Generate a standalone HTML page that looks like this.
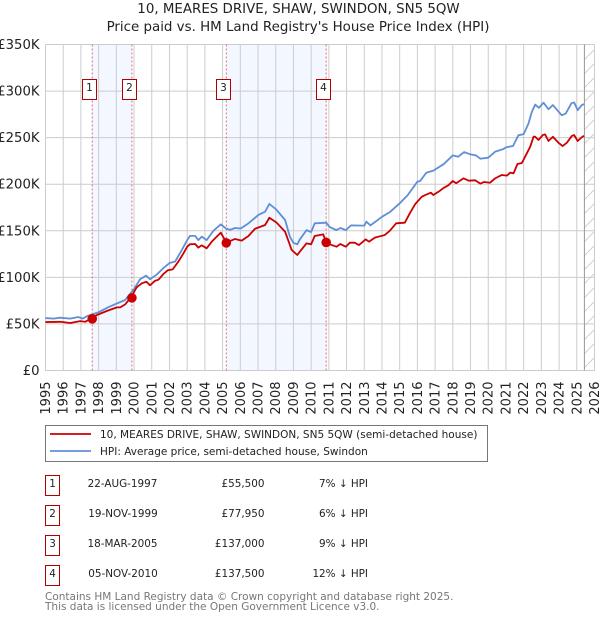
<!DOCTYPE html>
<html>
<head>
<meta charset="utf-8">
<title>10, Meares Drive price chart</title>
<style>
html,body{margin:0;padding:0;background:#fff;}
body{width:600px;height:620px;overflow:hidden;}
svg{display:block;}
text{font-family:"DejaVu Sans","Liberation Sans",sans-serif;fill:#222;}
</style>
</head>
<body>
<svg id="chart" width="600" height="620" viewBox="0 0 600 620">
  <defs>
    <pattern id="hatch" width="14" height="14" patternUnits="userSpaceOnUse">
      <line x1="0" y1="14" x2="14" y2="0" stroke="#d0d0d0" stroke-width="1"/>
    </pattern>
  </defs>
  <text x="298.5" y="13" text-anchor="middle" font-size="13.4">10, MEARES DRIVE, SHAW, SWINDON, SN5 5QW</text>
  <text x="298" y="31" text-anchor="middle" font-size="13.4">Price paid vs. HM Land Registry's House Price Index (HPI)</text>
  <g id="bands"></g>
  <g id="grid"></g>
  <g id="hatchLayer"></g>
  <g id="vlines"></g>
  <g id="series"></g>
  <g id="markers"></g>
  <g id="flags"></g>
  <g id="yLabels"></g>
  <g id="xLabels"></g>

  <g>
    <rect x="45.5" y="425.5" width="442" height="36" fill="#fff" stroke="#777" stroke-width="1"/>
    <line x1="50" y1="434" x2="91" y2="434" stroke="#cc0000" stroke-width="1.8"/>
    <text x="100" y="438" font-size="10.5">10, MEARES DRIVE, SHAW, SWINDON, SN5 5QW (semi-detached house)</text>
    <line x1="50" y1="451" x2="91" y2="451" stroke="#5f8fd6" stroke-width="1.8"/>
    <text x="100" y="455" font-size="10.5">HPI: Average price, semi-detached house, Swindon</text>
  </g>

  <g font-size="10.4">
    <g>
      <rect x="45.5" y="475.5" width="14" height="20" fill="#fff" stroke="#b00000" stroke-width="1"/>
      <text x="52.5" y="487" text-anchor="middle">1</text>
      <text x="122.5" y="487" text-anchor="middle">22-AUG-1997</text>
      <text x="264.5" y="487" text-anchor="end">£55,500</text>
      <text x="368" y="487" text-anchor="end">7% ↓ HPI</text>
    </g>
    <g>
      <rect x="45.5" y="505.5" width="14" height="20" fill="#fff" stroke="#b00000" stroke-width="1"/>
      <text x="52.5" y="517" text-anchor="middle">2</text>
      <text x="123" y="517" text-anchor="middle">19-NOV-1999</text>
      <text x="264.5" y="517" text-anchor="end">£77,950</text>
      <text x="368" y="517" text-anchor="end">6% ↓ HPI</text>
    </g>
    <g>
      <rect x="45.5" y="535.5" width="14" height="20" fill="#fff" stroke="#b00000" stroke-width="1"/>
      <text x="52.5" y="547" text-anchor="middle">3</text>
      <text x="122.5" y="547" text-anchor="middle">18-MAR-2005</text>
      <text x="264.5" y="547" text-anchor="end">£137,000</text>
      <text x="368" y="547" text-anchor="end">9% ↓ HPI</text>
    </g>
    <g>
      <rect x="45.5" y="565.5" width="14" height="20" fill="#fff" stroke="#b00000" stroke-width="1"/>
      <text x="52.5" y="577" text-anchor="middle">4</text>
      <text x="123" y="577" text-anchor="middle">05-NOV-2010</text>
      <text x="264.5" y="577" text-anchor="end">£137,500</text>
      <text x="368" y="577" text-anchor="end">12% ↓ HPI</text>
    </g>
  </g>

  <text x="45" y="600" font-size="10.5" style="fill:#777">Contains HM Land Registry data © Crown copyright and database right 2025.</text>
  <text x="45" y="610" font-size="10.5" style="fill:#777">This data is licensed under the Open Government Licence v3.0.</text>
</svg>
<script>
var xTickYears = [1995,1996,1997,1998,1999,2000,2001,2002,2003,2004,2005,2006,2007,2008,2009,2010,2011,2012,2013,2014,2015,2016,2017,2018,2019,2020,2021,2022,2023,2024,2025,2026];
var yTickValues = [0,50,100,150,200,250,300,350];
var yTickLabels = ["£0","£50K","£100K","£150K","£200K","£250K","£300K","£350K"];

var saleYears = [1997.64,1999.88,2005.21,2010.85];
var salePrices = [55.5,77.95,137,137.5];
var saleNumbers = ["1","2","3","4"];
var dataEndYear = 2025.43;

var hpiYears = [1995,1995.45,1995.83,1996.39,1996.86,1997.1,1997.37,1997.6,1998,1998.55,1999,1999.5,1999.85,2000,2000.34,2000.68,2000.9,2001.28,2001.66,2002,2002.32,2002.7,2003,2003.16,2003.45,2003.63,2003.82,2004.1,2004.48,2004.9,2005.18,2005.42,2005.7,2006.02,2006.46,2007.02,2007.4,2007.64,2008.02,2008.53,2008.8,2009,2009.22,2009.36,2009.74,2010,2010.2,2010.85,2011.05,2011.43,2011.65,2011.96,2012.25,2013,2013.12,2013.35,2014,2014.44,2015,2015.44,2016,2016.16,2016.5,2016.9,2017.48,2017.76,2018,2018.3,2018.64,2019,2019.3,2019.55,2020,2020.4,2020.86,2021,2021.4,2021.7,2022,2022.27,2022.46,2022.65,2022.86,2023.12,2023.4,2023.65,2024.15,2024.38,2024.7,2024.85,2025.05,2025.28,2025.41];
var hpiValues = [56.3,55.7,56.7,55.7,57.4,55.7,58.6,60,62.6,68,71.7,75.7,84,87.5,98,101.8,98,103,110,115.4,117,129.4,140,144.5,144.5,140,143.7,140,150,157,152.5,151,153,152.5,158,167,170.5,178.8,173,161.6,143.7,137,135.5,140.7,150.7,148.6,158,158.7,154,150.7,153,150.7,155.8,155.5,159.8,155.8,165,170,179.5,188,202.7,203.5,212.3,214.6,221.5,226.6,231,229.5,234.5,232,231,227.4,228.5,235,237.8,239.6,241,252.5,253.8,265,277.5,285.5,282,287.5,280.5,285,274,276,287,287.8,279.5,285,286];

var priceYears = [1995,1995.83,1996.4,1996.96,1997.24,1997.6,1997.9,1998.46,1999.03,1999.22,1999.5,1999.85,2000.15,2000.44,2000.7,2000.9,2001.19,2001.38,2001.66,2001.9,2002.18,2002.5,2002.79,2003,2003.15,2003.45,2003.63,2003.82,2004.1,2004.39,2004.67,2004.9,2005.08,2005.42,2005.7,2006.08,2006.46,2006.83,2007.4,2007.64,2008.05,2008.53,2008.9,2009.22,2009.36,2009.74,2010,2010.2,2010.68,2010.85,2011.05,2011.43,2011.65,2011.96,2012.18,2012.46,2012.7,2013.08,2013.27,2013.6,2014.16,2014.44,2014.8,2015.29,2015.57,2015.88,2016.25,2016.44,2016.76,2016.9,2017.2,2017.5,2017.76,2018,2018.19,2018.6,2018.9,2019.26,2019.55,2019.77,2020.1,2020.4,2020.77,2021.05,2021.24,2021.43,2021.65,2021.9,2022.18,2022.37,2022.56,2022.65,2022.84,2023.08,2023.21,2023.4,2023.65,2023.96,2024.2,2024.44,2024.72,2024.85,2025.05,2025.28,2025.41];
var priceValues = [52,52.3,51,53,52.3,56,59.6,63.9,67.8,67.8,71,79.2,89.3,93.6,95.3,91.5,96.4,97.5,103.6,107.6,108.6,116.8,125.8,132.9,135.5,135.8,131.9,134.4,131.2,138.3,143.7,148,141.9,139,141.2,139.4,144.4,152.2,156.2,164,158.7,149,129.4,124,127.6,136.5,135.5,144.4,146.2,137.5,135.5,132.9,135.8,132.9,137.2,137.2,134.7,140.8,138.3,142.6,145.5,150,158,158.7,168.8,178.8,186.6,188.4,190.9,188.4,192,196.3,199,203.5,201,206.3,203.8,204.2,200.6,202.4,201.6,206.4,209.9,209.2,212.4,211.7,221.7,222.8,233.2,240.3,251,251,247.5,252.8,253.5,246.4,251,244.6,241,244.6,251.8,252.8,246.4,250.4,252];

var NS = 'http://www.w3.org/2000/svg';
var plotLeft = 45.5, plotRight = 594.5, plotTop = 44.5, plotBottom = 370.5;
var yearMin = 1995, yearMax = 2026, valueMax = 350;

function xScale(year) { return plotLeft + (year - yearMin) / (yearMax - yearMin) * (plotRight - plotLeft); }
function yScale(value) { return plotBottom - value / valueMax * (plotBottom - plotTop); }
function make(parentId, tag, attrs, txt) {
  var el = document.createElementNS(NS, tag);
  for (var k in attrs) { el.setAttribute(k, attrs[k]); }
  if (txt !== undefined) { el.textContent = txt; }
  document.getElementById(parentId).appendChild(el);
  return el;
}
function linePath(xs, ys) {
  var d = '';
  for (var i = 0; i < xs.length; i++) {
    d += (i ? 'L' : 'M') + xScale(xs[i]).toFixed(2) + ' ' + yScale(ys[i]).toFixed(2);
  }
  return d;
}

for (var b = 0; b + 1 < saleYears.length; b += 2) {
  var band = make('bands', 'rect', {x: xScale(saleYears[b]), y: plotTop, width: xScale(saleYears[b + 1]) - xScale(saleYears[b]), height: plotBottom - plotTop, fill: '#f3f7ff'});
  
  
}

xTickYears.forEach(function (yr) {
  var gx = make('grid', 'line', {x1: xScale(yr), x2: xScale(yr), y1: plotTop, y2: plotBottom, stroke: '#cccccc', 'stroke-width': 1});
  
  
  var lx = make('xLabels', 'text', {transform: 'translate(' + (xScale(yr) + 4.5) + ',381.5) rotate(-90)', 'text-anchor': 'end', 'font-size': 13}, String(yr));
  
  
});

yTickValues.forEach(function (v, i) {
  var gy = make('grid', 'line', {x1: plotLeft, x2: plotRight, y1: yScale(v), y2: yScale(v), stroke: '#cccccc', 'stroke-width': 1});
  
  
  var ly = make('yLabels', 'text', {x: 39.5, y: yScale(v) + 4.5, 'text-anchor': 'end', 'font-size': 13.2}, yTickLabels[i]);
  
  
});

var hatchRect = make('hatchLayer', 'rect', {x: xScale(dataEndYear), y: plotTop, width: plotRight - xScale(dataEndYear), height: plotBottom - plotTop, fill: 'url(#hatch)'});


var endLine = make('hatchLayer', 'line', {x1: xScale(dataEndYear), x2: xScale(dataEndYear), y1: plotTop, y2: plotBottom, stroke: '#999999', 'stroke-width': 1});



saleYears.forEach(function (yr) {
  var vl = make('vlines', 'line', {x1: xScale(yr), x2: xScale(yr), y1: plotTop, y2: plotBottom, stroke: '#e06c7c', 'stroke-width': 1, 'stroke-dasharray': '2 2'});
  
  
});

var hpiLine = make('series', 'path', {d: linePath(hpiYears, hpiValues), fill: 'none', stroke: '#5f8fd6', 'stroke-width': 1.8, 'stroke-linejoin': 'round'});


var priceLine = make('series', 'path', {d: linePath(priceYears, priceValues), fill: 'none', stroke: '#cc0000', 'stroke-width': 1.8, 'stroke-linejoin': 'round'});



saleYears.forEach(function (yr, i) {
  var dot = make('markers', 'circle', {cx: xScale(yr), cy: yScale(salePrices[i]), r: 4.8, fill: '#cc0000'});
  
  
  var cx = Math.round(xScale(yr) - 3) + 0.5;
  var box = make('flags', 'rect', {x: cx - 7, y: 79.5, width: 14, height: 20, fill: '#fff', stroke: '#b00000', 'stroke-width': 1});
  
  
  var num = make('flags', 'text', {x: cx, y: 91, 'text-anchor': 'middle', 'font-size': 10.5}, saleNumbers[i]);
  
  
});
</script>
</body>
</html>
